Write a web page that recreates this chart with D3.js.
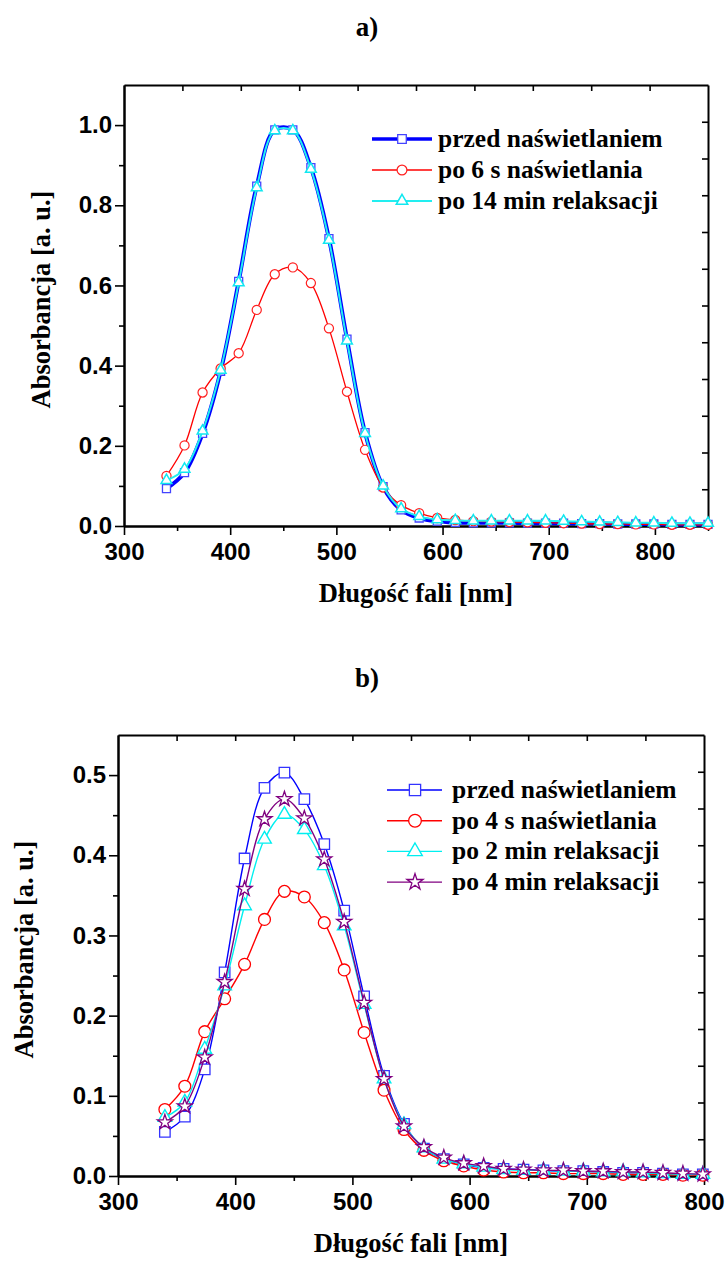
<!DOCTYPE html>
<html><head><meta charset="utf-8">
<script src="https://cdn.jsdelivr.net/npm/d3@7"></script>
<style>body{margin:0;background:#fff} svg{display:block}</style>
</head><body>
<svg id="c" width="725" height="1262"></svg>
<script>
// ---------- DATA: chart a) ----------
const wavelengthA = [340,357,374,391,408,425,442,459,476,493,510,527,544,561,578,595,612,629,646,663,680,697,714,731,748,765,782,799,816,833,850];
const przedA  = [0.093,0.133,0.231,0.386,0.610,0.848,0.988,0.988,0.894,0.717,0.466,0.233,0.098,0.040,0.020,0.012,0.009,0.008,0.008,0.008,0.007,0.007,0.007,0.006,0.006,0.005,0.005,0.005,0.004,0.004,0.004];
const po6sA   = [0.125,0.201,0.333,0.393,0.431,0.539,0.628,0.645,0.606,0.493,0.335,0.190,0.096,0.052,0.032,0.020,0.015,0.012,0.011,0.010,0.009,0.008,0.007,0.006,0.005,0.005,0.004,0.004,0.003,0.003,0.003];
const po14minA= [0.114,0.142,0.237,0.389,0.607,0.844,0.986,0.986,0.890,0.713,0.462,0.231,0.100,0.043,0.024,0.016,0.014,0.013,0.013,0.013,0.013,0.013,0.012,0.011,0.010,0.009,0.008,0.008,0.007,0.007,0.007];
const labelsA = ["przed naświetlaniem","po 6 s naświetlania","po 14 min relaksacji"];
const xTicksA = [300,400,500,600,700,800];
const xMinorA = [350,450,550,650,750,850];
const yTicksA = [0.0,0.2,0.4,0.6,0.8,1.0];
const yMinorA = [0.1,0.3,0.5,0.7,0.9];

// ---------- DATA: chart b) ----------
const wavelengthB = [340,357,374,391,408,425,442,459,476,493,510,527,544,561,578,595,612,629,646,663,680,697,714,731,748,765,782,799];
const przedB  = [0.055,0.074,0.133,0.254,0.396,0.484,0.503,0.470,0.414,0.331,0.224,0.125,0.065,0.034,0.021,0.0145,0.010,0.009,0.008,0.007,0.006,0.006,0.005,0.004,0.004,0.003,0.002,0.002];
const po4sB   = [0.083,0.112,0.180,0.221,0.264,0.320,0.355,0.348,0.316,0.257,0.179,0.107,0.058,0.032,0.019,0.0125,0.0075,0.005,0.004,0.004,0.003,0.003,0.003,0.002,0.002,0.002,0.001,0.001];
const po2minB = [0.073,0.092,0.158,0.237,0.337,0.420,0.451,0.432,0.387,0.312,0.214,0.121,0.064,0.035,0.021,0.015,0.011,0.008,0.007,0.007,0.006,0.006,0.005,0.005,0.004,0.003,0.002,0.002];
const po4minB = [0.067,0.087,0.148,0.242,0.358,0.445,0.470,0.446,0.395,0.317,0.216,0.121,0.062,0.036,0.023,0.016,0.0125,0.009,0.008,0.007,0.007,0.006,0.006,0.005,0.005,0.004,0.003,0.002];
const labelsB = ["przed naświetlaniem","po 4 s naświetlania","po 2 min relaksacji","po 4 min relaksacji"];
const xTicksB = [300,400,500,600,700,800];
const xMinorB = [350,450,550,650,750];
const yTicksB = [0.0,0.1,0.2,0.3,0.4,0.5];
const yMinorB = [0.05,0.15,0.25,0.35,0.45];

const xTitle = "Długość fali [nm]";
const yTitle = "Absorbancja [a. u.]";

const SERIF = "'Liberation Serif','Times New Roman',serif";
const SANS = "'Liberation Sans',Arial,sans-serif";
const svg = d3.select("#c");

function chart(o){
  const g = svg.append("g");
  const x = d3.scaleLinear().domain(o.xDomain).range([o.left,o.right]);
  const y = d3.scaleLinear().domain(o.yDomain).range([o.bottom,o.top]);

  const styleAxis = sel => {
    sel.attr("font-family",SANS).attr("font-size",24).attr("font-weight","bold");
    sel.select(".domain").attr("stroke","#000").attr("stroke-width",2);
    sel.selectAll(".tick line").attr("stroke","#000").attr("stroke-width",1.6);
    sel.selectAll(".tick text").attr("fill","#000");
  };
  g.append("g").attr("transform",`translate(0,${o.bottom})`)
    .call(d3.axisBottom(x).tickValues(o.xTicks).tickSize(9).tickSizeOuter(0).tickPadding(8).tickFormat(d3.format("d"))).call(styleAxis);
  g.append("g").attr("transform",`translate(0,${o.bottom})`)
    .call(d3.axisBottom(x).tickValues(o.xMinor).tickSize(5).tickSizeOuter(0).tickFormat("")).call(styleAxis);
  g.append("g").attr("transform",`translate(${o.left},0)`)
    .call(d3.axisLeft(y).tickValues(o.yTicks).tickSize(9).tickSizeOuter(0).tickPadding(3).tickFormat(d3.format(".1f"))).call(styleAxis);
  g.append("g").attr("transform",`translate(${o.left},0)`)
    .call(d3.axisLeft(y).tickValues(o.yMinor).tickSize(5).tickSizeOuter(0).tickFormat("")).call(styleAxis);
  const topVals = d3.range(1,o.topDiv).map(i => o.xDomain[0] + i*(o.xDomain[1]-o.xDomain[0])/o.topDiv);
  const rightVals = d3.range(1,o.rightDiv).map(i => o.yDomain[0] + i*(o.yDomain[1]-o.yDomain[0])/o.rightDiv);
  g.append("g").attr("transform",`translate(0,${o.top})`)
    .call(d3.axisTop(x).tickValues(topVals).tickSize(-6).tickSizeOuter(0).tickFormat("")).call(styleAxis);
  g.append("g").attr("transform",`translate(${o.right},0)`)
    .call(d3.axisRight(y).tickValues(rightVals).tickSize(-6).tickSizeOuter(0).tickFormat("")).call(styleAxis);

  const line = d3.line().curve(d3.curveCatmullRom.alpha(0.5)).x(d=>x(d[0])).y(d=>y(d[1]));
  o.series.forEach(s => {
    const pts = o.xs.map((w,i)=>[w,s.values[i]]);
    g.append("path").attr("d",line(pts)).attr("fill","none").attr("stroke",s.color).attr("stroke-width",s.lw).attr("stroke-linejoin","round");
    const sym = d3.symbol().type(s.shape).size(s.size);
    g.append("g").selectAll("path").data(pts).join("path")
      .attr("transform",d=>`translate(${x(d[0])},${y(d[1])})`)
      .attr("d",sym()).attr("fill","#fff").attr("stroke",s.mcolor).attr("stroke-width",s.mlw);
  });

  o.series.forEach((s,i)=>{
    const ry = o.leg.y0 + i*o.leg.dy;
    g.append("line").attr("x1",o.leg.x1).attr("x2",o.leg.x2).attr("y1",ry).attr("y2",ry)
      .attr("stroke",s.color).attr("stroke-width",s.llw || s.lw);
    g.append("path").attr("transform",`translate(${o.leg.mx},${ry})`).attr("d",d3.symbol().type(s.shape).size(s.size*1.15)())
      .attr("fill","#fff").attr("stroke",s.mcolor).attr("stroke-width",s.mlw);
    g.append("text").attr("x",o.leg.tx).attr("y",ry+8).text(o.labels[i])
      .attr("font-family",SERIF).attr("font-weight","bold").attr("font-size",25.5).attr("fill","#000");
  });

  g.append("text").attr("x",o.titleX).attr("y",o.titleY).attr("text-anchor","middle").text(o.title)
    .attr("font-family",SERIF).attr("font-weight","bold").attr("font-size",27);
  g.append("text").attr("x",(o.left+o.right)/2).attr("y",o.xtY).attr("text-anchor","middle").text(xTitle)
    .attr("font-family",SERIF).attr("font-weight","bold").attr("font-size",26.5);
  g.append("text").attr("transform",`translate(${o.ytX},${(o.top+o.bottom)/2 - 6}) rotate(-90)`).attr("text-anchor","middle").text(yTitle)
    .attr("font-family",SERIF).attr("font-weight","bold").attr("font-size",26.5);
}

chart({
  xDomain:[300,850], yDomain:[0,1.1], left:124, right:708, top:85, bottom:526,
  xTicks:xTicksA, xMinor:xMinorA, yTicks:yTicksA, yMinor:yMinorA, topDiv:10, rightDiv:12,
  xs:wavelengthA, labels:labelsA,
  series:[
    {values:przedA, color:"#0000ff", lw:4, llw:3.5, shape:d3.symbolSquare, size:64, mcolor:"#4444ff", mlw:1.3},
    {values:po6sA, color:"#ff0000", lw:1.3, shape:d3.symbolCircle, size:66, mcolor:"#ff2020", mlw:1.2},
    {values:po14minA, color:"#22eef0", lw:2, shape:d3.symbolTriangle, size:50, mcolor:"#10e8f0", mlw:1.5}
  ],
  leg:{x1:372, x2:432, mx:402, tx:438, y0:139, dy:31},
  title:"a)", titleX:367, titleY:36, xtY:602, ytX:50
});

chart({
  xDomain:[300,800], yDomain:[0,0.55], left:118, right:704, top:735, bottom:1176,
  xTicks:xTicksB, xMinor:xMinorB, yTicks:yTicksB, yMinor:yMinorB, topDiv:10, rightDiv:12,
  xs:wavelengthB, labels:labelsB,
  series:[
    {values:przedB, color:"#0000ff", lw:1.4, shape:d3.symbolSquare, size:110, mcolor:"#3333ff", mlw:1.3},
    {values:po4sB, color:"#ff0000", lw:1.4, shape:d3.symbolCircle, size:110, mcolor:"#ff0000", mlw:1.3},
    {values:po2minB, color:"#00f0f0", lw:1.4, shape:d3.symbolTriangle, size:80, mcolor:"#00eef0", mlw:1.4},
    {values:po4minB, color:"#800080", lw:1.4, shape:d3.symbolStar, size:70, mcolor:"#800080", mlw:1.3}
  ],
  leg:{x1:387, x2:442, mx:415, tx:452, y0:790, dy:30.7},
  title:"b)", titleX:367, titleY:687, xtY:1252, ytX:33
});
</script>
</body></html>
